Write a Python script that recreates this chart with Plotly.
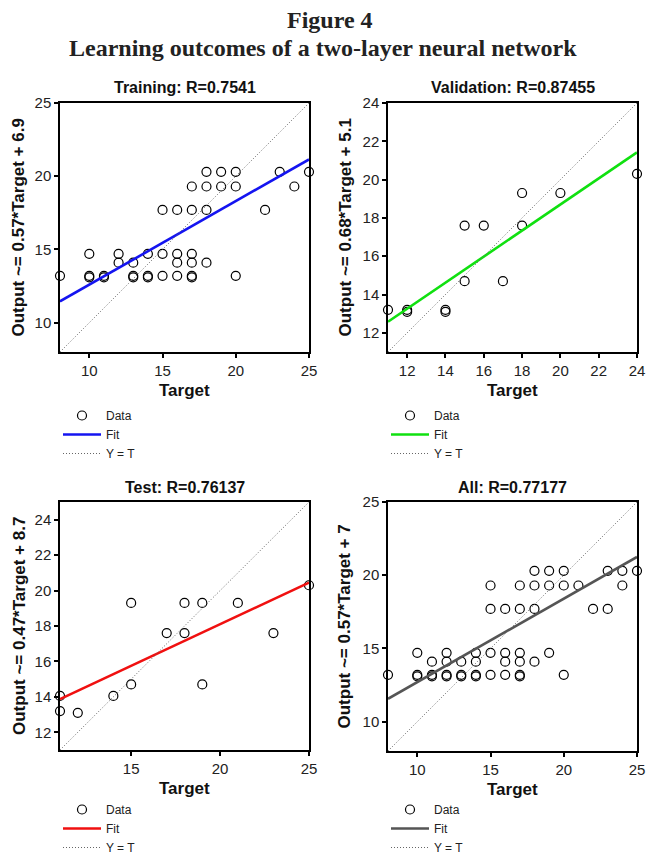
import plotly.graph_objects as go

W, H = 646, 858

# ---------------- data ----------------
panel_names = ["Training", "Validation", "Test", "All"]
panel_r = ["0.7541", "0.87455", "0.76137", "0.77177"]
fit_slopes = [0.57, 0.68, 0.47, 0.57]
fit_intercepts = [6.9, 5.1, 8.7, 7.0]
fit_labels = ["0.57*Target + 6.9", "0.68*Target + 5.1", "0.47*Target + 8.7", "0.57*Target + 7"]
fit_colors = ["#1414f0", "#10e010", "#f01010", "#555555"]

train_target = [8, 10, 10, 10, 11, 11, 12, 12, 13, 13, 13, 14, 14, 14, 15, 15, 15,
                16, 16, 16, 16, 17, 17, 17, 17, 17, 17, 18, 18, 18, 18, 19, 19,
                20, 20, 20, 22, 23, 24, 25]
train_output = [13.2, 14.7, 13.2, 13.1, 13.2, 13.1, 14.7, 14.1, 14.1, 13.2, 13.1, 14.7, 13.2, 13.1, 17.7, 14.7, 13.2,
                17.7, 14.7, 14.1, 13.2, 19.3, 17.7, 14.7, 14.1, 13.2, 13.1, 20.3, 19.3, 17.7, 14.1, 20.3, 19.3,
                20.3, 19.3, 13.2, 17.7, 20.3, 19.3, 20.3]

val_target = [11, 12, 12, 14, 14, 15, 15, 16, 17, 18, 18, 20, 24]
val_output = [13.2, 13.2, 13.1, 13.2, 13.1, 17.6, 14.7, 17.6, 14.7, 19.3, 17.6, 19.3, 20.3]

test_target = [11, 11, 12, 14, 15, 15, 17, 18, 18, 19, 19, 21, 23, 25]
test_output = [14.05, 13.2, 13.1, 14.05, 19.3, 14.7, 17.6, 19.3, 17.6, 19.3, 14.7, 19.3, 17.6, 20.3]

all_target = [8, 10, 10, 10, 11, 11, 11, 12, 12, 12, 12, 13, 13, 13, 14, 14, 14, 14,
              15, 15, 15, 15, 16, 16, 16, 16, 17, 17, 17, 17, 17, 17, 18, 18, 18, 18,
              19, 19, 19, 20, 20, 20, 21, 22, 23, 23, 24, 24, 25]
all_output = [13.2, 14.7, 13.2, 13.1, 14.1, 13.2, 13.1, 14.7, 14.1, 13.2, 13.1, 14.1, 13.2, 13.1, 14.7, 14.1, 13.2, 13.1,
              19.3, 17.7, 14.7, 13.2, 17.7, 14.7, 14.1, 13.2, 19.3, 17.7, 14.7, 14.1, 13.2, 13.1, 20.3, 19.3, 17.7, 14.1,
              20.3, 19.3, 14.7, 20.3, 19.3, 13.2, 19.3, 17.7, 20.3, 17.7, 20.3, 19.3, 20.3]

x_ranges = [[8, 25], [11, 24], [11, 25], [8, 25]]
y_ranges = [[8, 25], [11, 24], [11, 25], [8, 25]]
x_ticks = [[10, 15, 20, 25], [12, 14, 16, 18, 20, 22, 24], [15, 20, 25], [10, 15, 20, 25]]
y_ticks = [[10, 15, 20, 25], [12, 14, 16, 18, 20, 22, 24], [12, 14, 16, 18, 20, 22, 24], [10, 15, 20, 25]]

targets = [train_target, val_target, test_target, all_target]
outputs = [train_output, val_output, test_output, all_output]

# ---------------- layout (pixel boxes) ----------------
boxes = [  # x0, x1, ytop, ybottom in pixels
    (60, 309, 103, 352),
    (388, 637, 103, 352),
    (60, 309, 502, 750),
    (388, 637, 502, 751),
]
legend_tops = [401, 401, 795, 795]
ytitle_x = [18, 345, 19, 344]


def fx(p):
    return p / W


def fy(p):
    return 1 - p / H


SANS = "Arial, Liberation Sans, sans-serif"
SERIF = "Times New Roman, Liberation Serif, serif"

fig = go.Figure()
annotations = []
layout = {}

for i in range(4):
    n = "" if i == 0 else str(i + 1)
    xa, ya = "x" + n, "y" + n
    leg = "legend" + n
    x0, x1 = x_ranges[i]
    fit_y = [fit_slopes[i] * x0 + fit_intercepts[i], fit_slopes[i] * x1 + fit_intercepts[i]]

    fig.add_trace(go.Scatter(x=targets[i], y=outputs[i], mode="markers", name="Data",
                             marker=dict(symbol="circle-open", size=9, color="black",
                                         line=dict(width=1.2, color="black")),
                             cliponaxis=False,
                             xaxis=xa, yaxis=ya, legend=leg))
    fig.add_trace(go.Scatter(x=[x0, x1], y=fit_y, mode="lines", name="Fit",
                             line=dict(color=fit_colors[i], width=2.6),
                             xaxis=xa, yaxis=ya, legend=leg))
    fig.add_trace(go.Scatter(x=[x0, x1], y=[y_ranges[i][0], y_ranges[i][1]], mode="lines", name="Y = T",
                             line=dict(color="#666666", width=1, dash="1px,2px"),
                             xaxis=xa, yaxis=ya, legend=leg))

    bx0, bx1, byt, byb = boxes[i]
    axis_common = dict(showline=True, linecolor="black", linewidth=1.5, mirror=True,
                       ticks="outside", ticklen=4, tickwidth=1.5, tickcolor="black",
                       showgrid=False, zeroline=False, automargin=False,
                       ticklabeloverflow="allow",
                       tickfont=dict(family=SANS, size=15, color="#222222"))
    layout["xaxis" + n] = dict(domain=[fx(bx0), fx(bx1)], range=x_ranges[i], tickvals=x_ticks[i],
                               anchor=ya, **axis_common)
    layout["yaxis" + n] = dict(domain=[fy(byb), fy(byt)], range=y_ranges[i], tickvals=y_ticks[i],
                               anchor=xa, **axis_common)

    layout[leg] = dict(x=fx(bx0 - 2), y=fy(legend_tops[i]), xanchor="left", yanchor="top",
                       bgcolor="rgba(255,255,255,0.9)", font=dict(family=SANS, size=12, color="#222"),
                       itemwidth=38, tracegroupgap=0, traceorder="normal")

    cx = (bx0 + bx1) / 2
    annotations.append(dict(text="<b>%s: R=%s</b>" % (panel_names[i], panel_r[i]),
                            x=fx(cx), y=fy(byt - 15), xref="paper", yref="paper",
                            showarrow=False, font=dict(family=SANS, size=16, color="#111"),
                            xanchor="center", yanchor="middle"))
    annotations.append(dict(text="<b>Target</b>", x=fx(cx), y=fy(byb + 38), xref="paper", yref="paper",
                            showarrow=False, font=dict(family=SANS, size=17, color="#111"),
                            xanchor="center", yanchor="middle"))
    annotations.append(dict(text="<b>Output ~= %s</b>" % fit_labels[i], x=fx(ytitle_x[i]),
                            y=fy((byt + byb) / 2), xref="paper", yref="paper", textangle=-90,
                            showarrow=False, font=dict(family=SANS, size=17, color="#111"),
                            xanchor="center", yanchor="middle"))

annotations.append(dict(text="<b>Figure 4</b>", x=fx(330), y=fy(20), xref="paper", yref="paper",
                        showarrow=False, font=dict(family=SERIF, size=24, color="#222"),
                        xanchor="center", yanchor="middle"))
annotations.append(dict(text="<b>Learning outcomes of a two-layer neural network</b>", x=fx(323), y=fy(48),
                        xref="paper", yref="paper", showarrow=False,
                        font=dict(family=SERIF, size=24, color="#222"),
                        xanchor="center", yanchor="middle"))

fig.update_layout(width=W, height=H, margin=dict(l=0, r=0, t=0, b=0, autoexpand=False),
                  paper_bgcolor="white", plot_bgcolor="white",
                  annotations=annotations, showlegend=True, **layout)

fig.write_html("out.html", config={"displayModeBar": False},
               post_script="document.body.style.margin='0px';")
